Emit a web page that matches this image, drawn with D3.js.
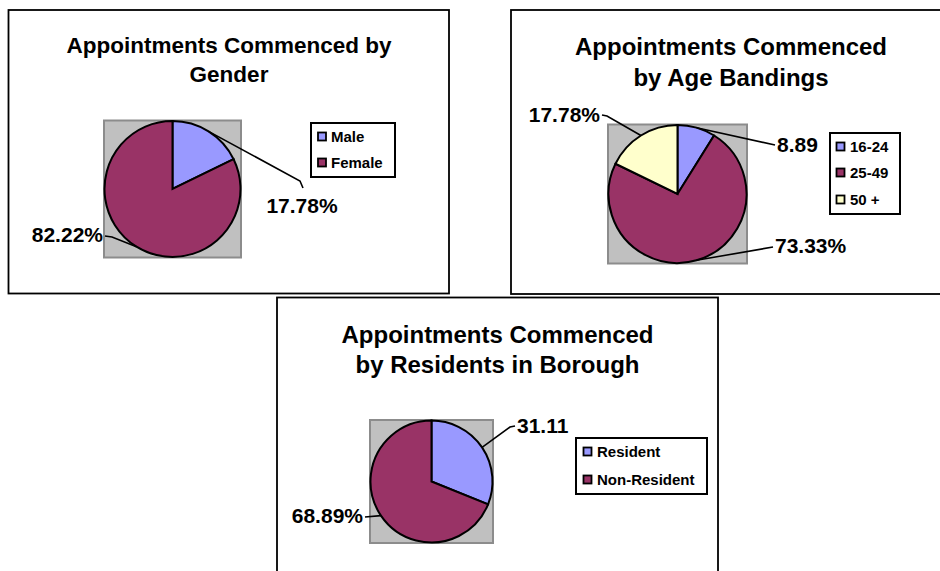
<!DOCTYPE html>
<html>
<head>
    <meta charset="utf-8">
    <style>
        body {
            margin: 0;
            background: #fff;
        }

        svg {
            display: block;
            font-family: 'Liberation Sans', Arial, Helvetica, sans-serif;
            font-weight: bold;
        }

        .panel-box {
            fill: #fff;
            stroke: #000;
            stroke-width: 1.8px;
        }

        .plot-area {
            fill: #c0c0c0;
            stroke: #8c8c8c;
            stroke-width: 2px;
        }

        .slice {
            stroke: #000;
            stroke-width: 2px;
        }

        .leader {
            fill: none;
            stroke: #000;
            stroke-width: 1.6px;
        }

        .legend-box {
            fill: #fff;
            stroke: #000;
            stroke-width: 2px;
        }
    </style>
</head>
<body>
    <svg class="charts" width="940" height="571"></svg>

<script src="https://d3js.org/d3.v7.min.js"></script>
<script>

    // ---- data ----
    const genderTitle = ["Appointments Commenced by", "Gender"]
    const genderCats = ["Male", "Female"]
    const genderValues = [17.78, 82.22]
    const genderLabels = ["17.78%", "82.22%"]

    const ageTitle = ["Appointments Commenced", "by Age Bandings"]
    const ageCats = ["16-24", "25-49", "50 +"]
    const ageValues = [8.89, 73.33, 17.78]
    const ageLabels = ["8.89", "73.33%", "17.78%"]

    const residentTitle = ["Appointments Commenced", "by Residents in Borough"]
    const residentCats = ["Resident", "Non-Resident"]
    const residentValues = [31.11, 68.89]
    const residentLabels = ["31.11", "68.89%"]

    const sliceColors = ["#9999ff", "#993366", "#ffffcc"]

    // ---- layout (hand placed, like the excel original) ----
    const panels = [
        {
            title: genderTitle, cats: genderCats, values: genderValues, labels: genderLabels,
            box: {x: 8.5, y: 10, w: 440.5, h: 283.5},
            titleX: 229, titleY: [53, 82], titleSize: 22.5,
            pie: {cx: 172.5, cy: 189, r: 68},
            legend: {x: 311, y: 123, w: 84, h: 54, rows: [142, 168], swatchX: 318, textX: 331},
            labelPos: [
                {x: 302, y: 213, anchor: "middle", path: [[300, 181], [303, 188]]},
                {x: 103, y: 242, anchor: "end", path: [[112, 237], [105, 236]]}
            ]
        },
        {
            title: ageTitle, cats: ageCats, values: ageValues, labels: ageLabels,
            box: {x: 511, y: 10, w: 440, h: 284},
            titleX: 731, titleY: [55, 86], titleSize: 24,
            pie: {cx: 677.5, cy: 194, r: 69},
            legend: {x: 830, y: 133, w: 70, h: 81, rows: [152, 178, 205], swatchX: 836.5, textX: 850},
            labelPos: [
                {x: 777, y: 152, anchor: "start", path: [[775, 145]]},
                {x: 775, y: 253, anchor: "start", path: [[773, 247]]},
                {x: 600, y: 122, anchor: "end", path: [[607, 116], [602, 115]]}
            ]
        },
        {
            title: residentTitle, cats: residentCats, values: residentValues, labels: residentLabels,
            box: {x: 277, y: 297.5, w: 441, h: 300},
            titleX: 497.5, titleY: [343, 373], titleSize: 24,
            pie: {cx: 431.5, cy: 481.5, r: 61},
            legend: {x: 576, y: 438, w: 131, h: 56, rows: [457, 485], swatchX: 583.5, textX: 597},
            labelPos: [
                {x: 517, y: 433, anchor: "start", path: [[510, 427], [515, 426]]},
                {x: 363, y: 523, anchor: "end", path: [[365, 517]]}
            ]
        }
    ]

    let svg = d3.select(".charts")

    let pie = d3.pie().sort(null).value(d => d)

    panels.forEach(function(p) {
        let g = svg.append("g")

        g.append("rect")
            .attr("class", "panel-box")
            .attr("x", p.box.x)
            .attr("y", p.box.y)
            .attr("width", p.box.w)
            .attr("height", p.box.h)

        g.selectAll(".title")
            .data(p.title)
            .join("text")
            .attr("class", "title")
            .attr("x", p.titleX)
            .attr("y", (d, i) => p.titleY[i])
            .attr("text-anchor", "middle")
            .attr("font-size", p.titleSize + "px")
            .text(d => d)

        // grey plot area behind the pie
        let r = p.pie.r
        g.append("rect")
            .attr("class", "plot-area")
            .attr("x", p.pie.cx - r - 0.5)
            .attr("y", p.pie.cy - r - 0.5)
            .attr("width", 2 * r + 1)
            .attr("height", 2 * r + 1)

        let arcs = pie(p.values)
        let arc = d3.arc().innerRadius(0).outerRadius(r)
        let edge = d3.arc().innerRadius(r).outerRadius(r)

        let pieG = g.append("g")
            .attr("transform", `translate(${p.pie.cx},${p.pie.cy})`)

        pieG.selectAll(".slice")
            .data(arcs)
            .join("path")
            .attr("class", "slice")
            .attr("d", arc)
            .attr("fill", (d, i) => sliceColors[i])

        // leader lines from the rim of each slice to its label
        g.selectAll(".leader")
            .data(arcs)
            .join("path")
            .attr("class", "leader")
            .attr("d", function(d, i) {
                let c = edge.centroid(d)
                let pts = [[p.pie.cx + c[0], p.pie.cy + c[1]]].concat(p.labelPos[i].path)
                return d3.line()(pts)
            })

        g.selectAll(".value-label")
            .data(p.labels)
            .join("text")
            .attr("class", "value-label")
            .attr("x", (d, i) => p.labelPos[i].x)
            .attr("y", (d, i) => p.labelPos[i].y)
            .attr("text-anchor", (d, i) => p.labelPos[i].anchor)
            .attr("font-size", "21px")
            .text(d => d)

        // legend
        let lg = g.append("g")
        lg.append("rect")
            .attr("class", "legend-box")
            .attr("x", p.legend.x)
            .attr("y", p.legend.y)
            .attr("width", p.legend.w)
            .attr("height", p.legend.h)

        lg.selectAll(".swatch")
            .data(p.cats)
            .join("rect")
            .attr("class", "swatch")
            .attr("x", p.legend.swatchX)
            .attr("y", (d, i) => p.legend.rows[i] - 9.5)
            .attr("width", 8)
            .attr("height", 8)
            .attr("fill", (d, i) => sliceColors[i])
            .attr("stroke", "#000")
            .attr("stroke-width", 1.8)

        lg.selectAll(".legend-text")
            .data(p.cats)
            .join("text")
            .attr("class", "legend-text")
            .attr("x", p.legend.textX)
            .attr("y", (d, i) => p.legend.rows[i])
            .attr("font-size", "15px")
            .text(d => d)
    })

</script>
</body>
</html>
